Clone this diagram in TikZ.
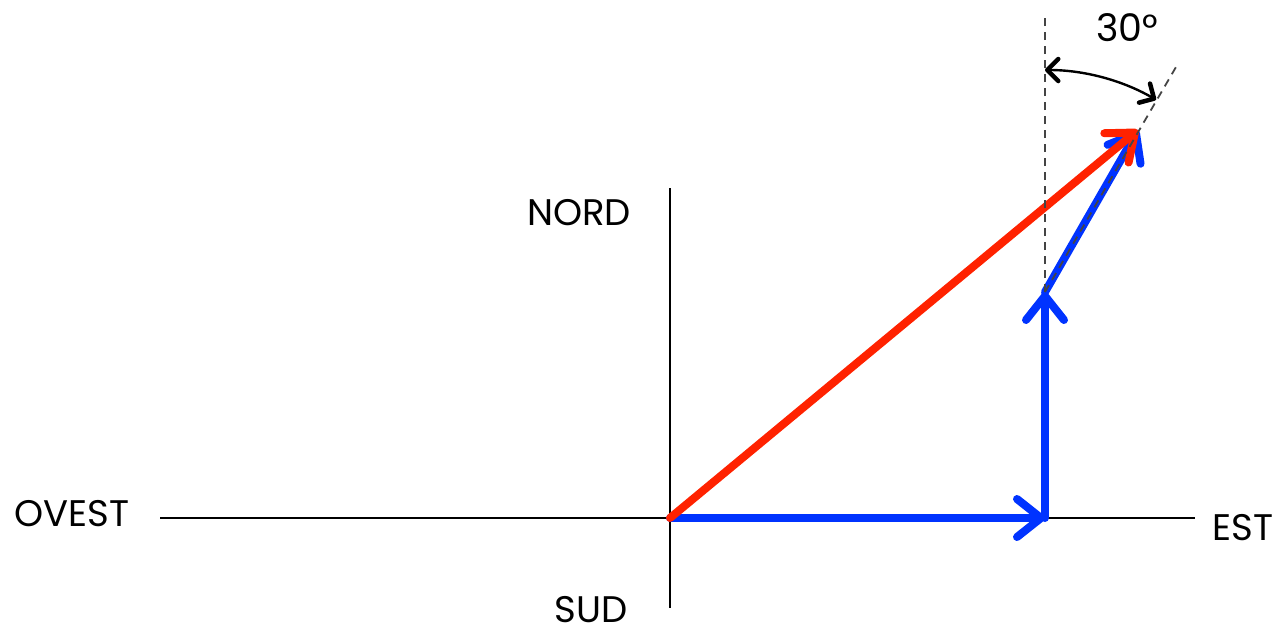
\documentclass[tikz,border=0pt]{standalone}
\usepackage{fontspec}
\setmainfont{Poppins}
\usetikzlibrary{arrows.meta,calc}
\definecolor{vred}{HTML}{FF2200}
\definecolor{vblue}{HTML}{0033FF}
\definecolor{dgray}{HTML}{444444}
\tikzset{
  axis/.style={line width=2.8pt, black},
  vec/.style={line width=8pt, line cap=round, -{Straight Barb[length=24pt,width=38pt,round]}},
  guide/.style={line width=1.8pt, dgray, dash pattern=on 8pt off 6pt},
  angarc/.style={line width=2.4pt, black, {Straight Barb[length=11pt,width=22pt,round,line width=4.5pt]}-{Straight Barb[length=11pt,width=22pt,round,line width=4.5pt]}},
  lbl/.style={font=\fontsize{37}{44}\selectfont, inner sep=0pt}
}
\begin{document}
\begin{tikzpicture}[x=1pt,y=-1pt]
\useasboundingbox (0,0) rectangle (1277,633);
\coordinate (O) at (670,518);
\coordinate (A) at (1045,518);
\coordinate (B) at (1045,292);
\coordinate (C) at (1138,130);
\coordinate (W) at (160,518);
\coordinate (E) at (1195,518);
\coordinate (N) at (670,188);
\coordinate (S) at (670,608);
\coordinate (VT) at (1045,18);
\coordinate (ST) at (1176,67);
% axes
\draw[axis] (W) -- (E);
\draw[axis] (N) -- (S);
% labels
\node[lbl] (nord) at (579,213) {NORD};
\node[lbl] (ovest) at (72,514) {OVEST};
\node[lbl] (est) at (1243,528) {EST};
\node[lbl, text depth=0pt, anchor=south] (sud) at (591,623) {SUD};
\node[lbl, font=\fontsize{38}{44}\selectfont] (ang) at (1127,28) {30°};
% vectors
\draw[vec, vblue] (O) -- (A);
\draw[vec, vblue] (A) -- (B);
\draw[vec, vblue] (B) -- (C);
\draw[vec, vred] (O) -- (C);
% guides
\draw[guide] (B) -- (VT);
\draw[guide] (B) -- (ST);
\draw[angarc] ($(B)+(0,-222)$) arc[start angle=-90, end angle=-60, radius=222];
\end{tikzpicture}
\end{document}
